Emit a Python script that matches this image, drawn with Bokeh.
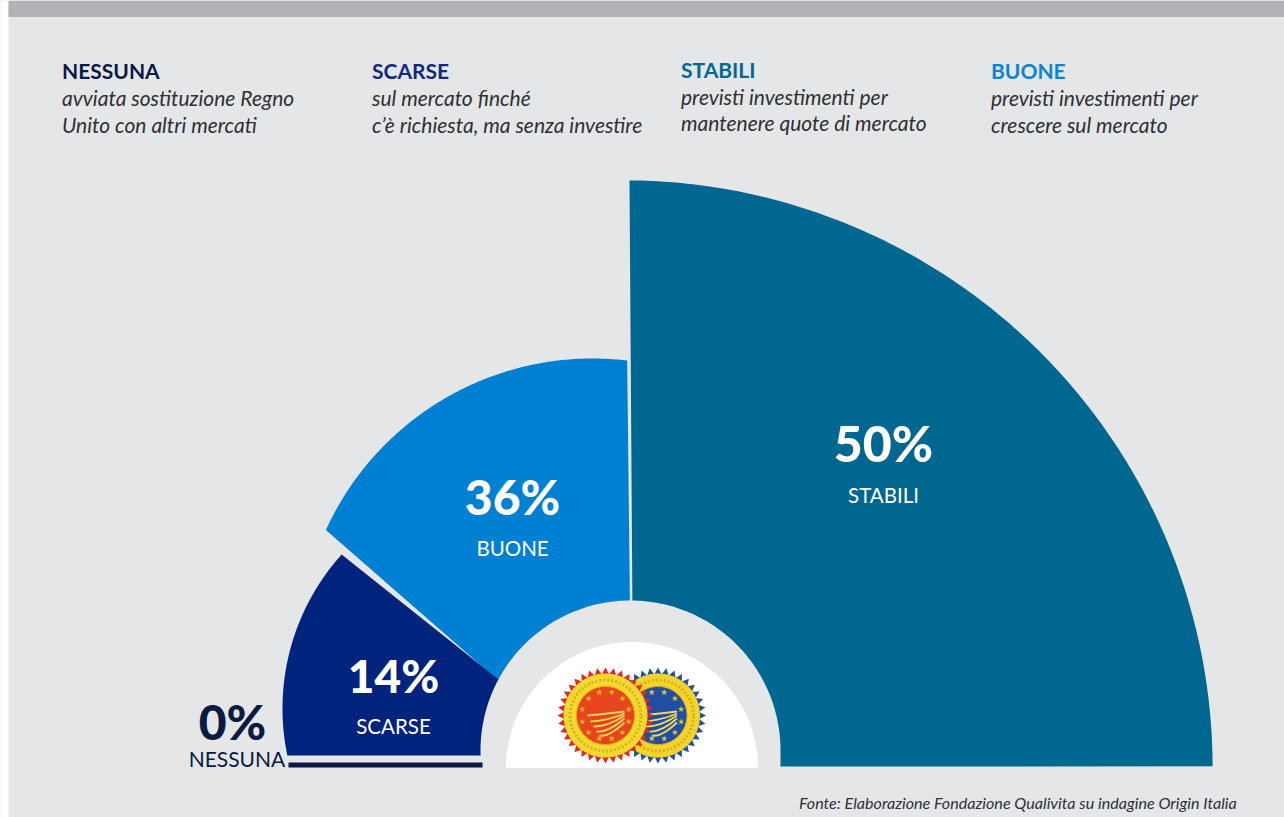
import numpy as np
from bokeh.plotting import figure
from bokeh.models import Range1d
from bokeh.core.properties import value
from bokeh.embed import file_html
from bokeh.resources import INLINE

# ---- data
CATEGORIES = ["NESSUNA", "SCARSE", "BUONE", "STABILI"]
VALUES = [0, 14, 36, 50]
HEADINGS = ["NESSUNA", "SCARSE", "STABILI", "BUONE"]
DESCR_1 = ["avviata sostituzione Regno", "sul mercato finché", "previsti investimenti per", "previsti investimenti per"]
DESCR_2 = ["Unito con altri mercati", "c’è richiesta, ma senza investire", "mantenere quote di mercato", "crescere sul mercato"]
SOURCE = "Fonte: Elaborazione Fondazione Qualivita su indagine Origin Italia"

# ---- styles
BG = "#e5e6e8"; BAND = "#b1b2b6"; WHITE = "#ffffff"
COL = {"NESSUNA": "#0b1a45", "SCARSE": "#00237d", "BUONE": "#0080d2", "STABILI": "#006791"}
HEAD_COL = {"NESSUNA": "#0b1a45", "SCARSE": "#0f2a80", "STABILI": "#006a94", "BUONE": "#0a84d6"}
FONT = value("Lato")
HEAVY = value("Lato Black")

p = figure(width=1284, height=817, x_range=Range1d(0, 1284), y_range=Range1d(817, 0),
           output_backend="svg", toolbar_location=None, min_border=0,
           background_fill_color=BG, border_fill_color=BG, outline_line_color=None)
p.axis.visible = False
p.grid.visible = False


def arc(cx, cy, r, a0, a1, n=160):
    """Points of a circular arc in screen-like coordinates; angles counter-clockwise from +x."""
    t = np.radians(np.linspace(a0, a1, n))
    return cx + r * np.cos(t), cy - r * np.sin(t)


p.quad(left=[0], right=[8], top=[0], bottom=[817], fill_color=WHITE, line_color=None)
p.quad(left=[8], right=[1284], top=[0], bottom=[16.5], fill_color=BAND, line_color=None)

# ---- sectors: outer arc of each, closed towards the hub
SHAPE = {
    "STABILI": dict(c=(624.6, 767.4), r=587.5, a=(0.15, 89.6), rest=([629, 633], [180, 766])),
    "BUONE": dict(c=(592, 651), r=293, a=(83.2, 155.5), rest=([500, 630.5], [682, 700])),
    "SCARSE": dict(c=(512, 708), r=230, a=(138.0, 191.8), rest=([482, 505], [755, 684.5])),
}
for cat in ["STABILI", "BUONE", "SCARSE"]:
    s = SHAPE[cat]
    x, y = arc(s["c"][0], s["c"][1], s["r"], *s["a"])
    p.patch(np.r_[x, s["rest"][0]], np.r_[y, s["rest"][1]], fill_color=COL[cat], line_color=None)

# hub cut-out and white semicircle
hx, hy = arc(630, 750, 150, 0, 180)
p.patch(np.r_[hx, [480.5, 780]], np.r_[hy, [775, 775]], fill_color=BG, line_color=None)
wx, wy = arc(631.5, 767.5, 126, 0, 180)
p.patch(wx, wy, fill_color=WHITE, line_color=None)

# zero slice: only a thin line
p.quad(left=[288], right=[482], top=[762], bottom=[767], fill_color=COL["NESSUNA"], line_color=None)


# ---- seals
def seal(cx, cy, teeth, ring, field, star):
    n = 36
    t = np.radians(np.arange(2 * n) * 180 / n)
    r = np.where(np.arange(2 * n) % 2 == 0, 48, 41.5)
    p.patch(cx + r * np.cos(t), cy + r * np.sin(t), fill_color=teeth, line_color=None)
    rx, ry = arc(cx, cy, 42, 0, 360, 90)
    p.patch(rx, ry, fill_color=ring, line_color=None)
    rx, ry = arc(cx, cy, 35.5, 0, 360, 90)
    p.line(rx, ry, line_color="#b09a35", line_width=3, line_dash="2 2", line_alpha=0.6)
    rx, ry = arc(cx, cy, 29, 0, 360, 90)
    p.patch(rx, ry, fill_color=field, line_color="#e3a51d", line_width=1)
    a = np.radians(np.arange(12) * 30 + 15)
    p.scatter(cx + 24 * np.cos(a), cy + 24 * np.sin(a), marker="star", size=7, fill_color=star, line_color=None)
    x0 = cx - 18; x1 = cx + 19
    for k, (dy0, dy1) in enumerate([(0, -4), (6, -2), (11, 0), (16, 3), (20, 7)]):
        p.quadratic(x0=[x0 + k * 3], y0=[cy + dy0], x1=[x1], y1=[cy + dy1],
                    cx=[cx + 3], cy=[cy + dy0 - 2 + k], line_color="#f3d65a", line_width=1.8)


seal(657.5, 715, "#27509c", "#f5d327", "#1f4ea3", "#e3c23a")
seal(605, 715, "#e5261f", "#f7d92b", "#e8441d", "#f2b92e")

# ---- legend blocks
HX = [61.5, 371.5, 680.5, 990.5]
HY = [70, 70, 69, 70]
D1 = [97, 97, 96, 97]
D2 = [124, 124, 122, 124]
p.text(HX, HY, text=HEADINGS, text_font=FONT, text_font_style="bold", text_font_size="21px",
       text_color=[HEAD_COL[h] for h in HEADINGS], text_baseline="middle", text_align="left")
p.text(HX, D1, text=DESCR_1, text_font=FONT, text_font_style="italic", text_font_size="21px",
       text_color="#2f2f34", text_baseline="middle", text_align="left")
p.text(HX, D2, text=DESCR_2, text_font=FONT, text_font_style="italic", text_font_size="21px",
       text_color="#2f2f34", text_baseline="middle", text_align="left")

# ---- value labels
LX = [232, 393, 512, 883]
LY = [721, 675, 496, 442]
SX = [236.5, 393, 512, 883]
SY = [758, 725, 547, 494]
TXT = [COL["NESSUNA"], WHITE, WHITE, WHITE]
SZ = ["48px", "46px", "48px", "50px"]
p.text(LX, LY, text=[f"{v}%" for v in VALUES], text_font=HEAVY,
       text_font_size=SZ, text_color=TXT, text_align="center", text_baseline="middle")
p.text(SX, SY, text=CATEGORIES, text_font=FONT, text_font_size=["21px", "20.5px", "20.5px", "20.5px"],
       text_color=TXT, text_align="center", text_baseline="middle")

p.text([798.5], [802], text=[SOURCE], text_font=FONT, text_font_style="italic", text_font_size="16.1px",
       text_color="#2f2f34", text_baseline="middle", text_align="left")

open("out.html", "w").write(file_html(p, INLINE))
